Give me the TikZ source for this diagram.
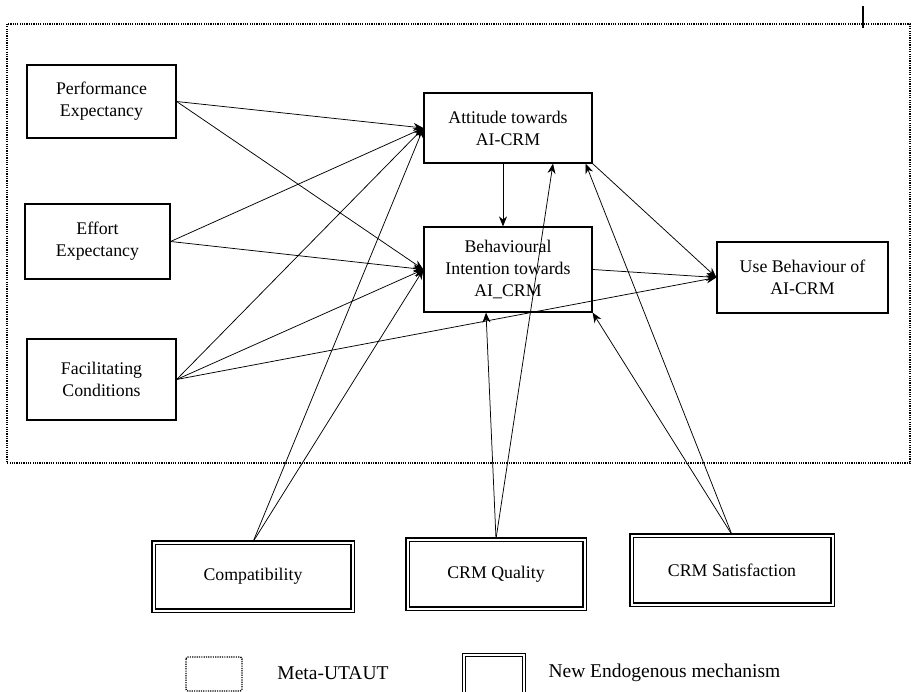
\documentclass[tikz,border=0pt]{standalone}
\usepackage{fontspec}
\setmainfont{Liberation Serif}
\usetikzlibrary{arrows.meta}

\begin{document}
\begin{tikzpicture}[x=1pt, y=-1pt,
    every node/.style={font=\fontsize{17.8}{22}\selectfont},
    box/.style={draw, line width=1.2pt, align=center, inner sep=0pt},
    dblbox/.style={draw, line width=1.3pt, double, double distance=2pt, align=center, inner sep=0pt},
    utaut/.style={line width=1.4pt, dash pattern=on 1.2pt off 1.1pt},
    link/.style={-{Stealth[length=10pt,width=8pt]}, line width=0.75pt}]
    \useasboundingbox (0,0) rectangle (912,692);

    % meta-UTAUT frame
    \draw[utaut] (7,24) rectangle (910,463);
    \draw[line width=1.5pt] (863,6)--(863,28);

    \node[box, minimum width=149pt, minimum height=73pt] (pe) at (101.5,101.5) {Performance\\Expectancy};
    \node[box, minimum width=145pt, minimum height=75pt] (ee) at (97.5,241.5) {Effort\\Expectancy};
    \node[box, minimum width=149pt, minimum height=81pt] (fc) at (101.5,379.5) {Facilitating\\Conditions};
    \node[box, minimum width=168pt, minimum height=70pt] (att) at (508,128) {Attitude towards\\AI-CRM};
    \node[box, minimum width=168pt, minimum height=85pt] (bi) at (508,269.5) {Behavioural\\Intention towards\\AI\_CRM};
    \node[box, minimum width=171pt, minimum height=71pt] (ub) at (802.5,277.5) {Use Behaviour of\\AI-CRM};

    % new endogenous constructs
    \node[dblbox, minimum width=199pt, minimum height=68pt] (comp) at (253,576.5) {Compatibility};
    \node[dblbox, minimum width=177pt, minimum height=69pt] (crmq) at (496,574) {CRM Quality};
    \node[dblbox, minimum width=201pt, minimum height=69pt] (crms) at (732,570) {CRM Satisfaction};

    \draw[link] (pe.east)--(att.west);
    \draw[link] (pe.east)--(bi.west);
    \draw[link] (ee.east)--(att.west);
    \draw[link] (ee.east)--(bi.west);
    \draw[link] (fc.east)--(att.west);
    \draw[link] (fc.east)--(bi.west);
    \draw[link] (fc.east)--(ub.west);
    \draw[link] (comp.north)--(att.west);
    \draw[link] (comp.north)--(bi.west);
    \draw[link] (crmq.north)--([xshift=-22pt]bi.south);
    \draw[link] (crmq.north)--([xshift=45pt]att.south);
    \draw[link] (crms.north)--(bi.south east);
    \draw[link] (crms.north)--([xshift=-7pt]att.south east);
    \draw[link] ([xshift=-5pt]att.south)--([xshift=-5pt]bi.north);
    \draw[link] (att.south east)--(ub.west);
    \draw[link] (bi.east)--(ub.west);

    % legend
    \draw[utaut, rounded corners=2pt] (186,657) rectangle (242,691);
    \node[font=\fontsize{19.5}{22}\selectfont] (keymeta) at (333,673) {Meta-UTAUT};
    \draw[line width=1.3pt, double, double distance=2pt] (464,655) rectangle (524,695);
    \node[font=\fontsize{19.5}{22}\selectfont, anchor=west] (keynew) at (545,673) {New Endogenous mechanism};
\end{tikzpicture}
\end{document}
